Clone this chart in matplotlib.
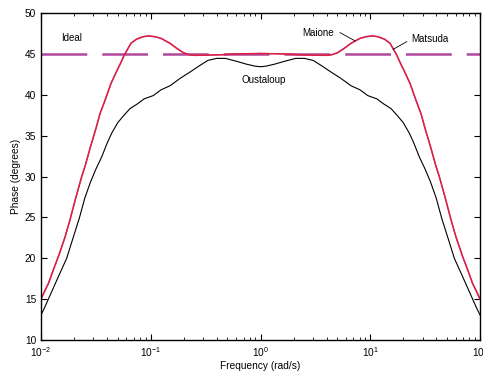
import numpy as np
import matplotlib.pyplot as plt

plt.rcParams['font.family'] = ['Liberation Sans', 'DejaVu Sans']
plt.rcParams['mathtext.fontset'] = 'custom'
plt.rcParams['mathtext.rm'] = 'Liberation Sans'
plt.rcParams['mathtext.it'] = 'Liberation Sans:italic'

# frequency points (as powers of ten)
logw_red = [-2.0, -1.966, -1.933, -1.89, -1.842, -1.781, -1.736, -1.681, -1.629, -1.6,
            -1.55, -1.499, -1.462, -1.42, -1.362, -1.31, -1.27, -1.241, -1.21, -1.18,
            -1.13, -1.07, -1.02, -0.96, -0.907, -0.825, -0.76, -0.703, -0.65, -0.6,
            -0.5, -0.35, -0.2, 0.0, 0.2, 0.35, 0.5, 0.6, 0.65, 0.703, 0.76, 0.825,
            0.907, 0.96, 1.02, 1.07, 1.13, 1.18, 1.21, 1.241, 1.27, 1.31, 1.362,
            1.42, 1.462, 1.499, 1.55, 1.6, 1.629, 1.681, 1.736, 1.781, 1.842, 1.89,
            1.933, 1.966, 2.0]
maione = [15.0, 16.0, 16.9, 18.5, 20.2, 22.6, 24.7, 27.5, 30.0, 31.2,
          33.6, 35.9, 37.7, 39.2, 41.4, 42.9, 44.0, 44.86, 45.6, 46.3,
          46.8, 47.1, 47.2, 47.1, 46.9, 46.3, 45.65, 45.15, 44.9, 44.82,
          44.85, 44.9, 45.0, 45.05, 45.0, 44.9, 44.85, 44.82, 44.9, 45.15, 45.65, 46.3,
          46.9, 47.1, 47.2, 47.1, 46.8, 46.3, 45.6, 44.86, 44.0, 42.9, 41.4,
          39.2, 37.7, 35.9, 33.6, 31.2, 30.0, 27.5, 24.7, 22.6, 20.2, 18.5,
          16.9, 16.0, 15.0]
matsuda = [15.0, 16.0, 16.9, 18.5, 20.2, 22.6, 24.7, 27.5, 30.0, 31.2,
           33.6, 35.9, 37.7, 39.2, 41.4, 42.9, 44.0, 44.86, 45.6, 46.3,
           46.8, 47.1, 47.2, 47.1, 46.9, 46.3, 45.65, 45.15, 44.9, 44.82,
           44.85, 44.9, 45.0, 45.05, 45.0, 44.9, 44.85, 44.82, 44.9, 45.15, 45.65, 46.3,
           46.9, 47.1, 47.2, 47.1, 46.8, 46.3, 45.6, 44.86, 44.0, 42.9, 41.4,
           39.2, 37.7, 35.9, 33.6, 31.2, 30.0, 27.5, 24.7, 22.6, 20.2, 18.5,
           16.9, 16.0, 15.0]

logw_blk = [-2.0, -1.966, -1.933, -1.85, -1.766, -1.71, -1.651, -1.6, -1.55, -1.5,
            -1.447, -1.4, -1.356, -1.3, -1.25, -1.19, -1.12, -1.06, -0.977, -0.907,
            -0.825, -0.733, -0.64, -0.551, -0.48, -0.4, -0.32, -0.22, -0.13, -0.05,
            0.0, 0.05, 0.13, 0.22, 0.32, 0.4, 0.48, 0.551, 0.64, 0.733, 0.825,
            0.907, 0.977, 1.06, 1.12, 1.19, 1.25, 1.3, 1.356, 1.4, 1.447,
            1.5, 1.55, 1.6, 1.651, 1.71, 1.766, 1.85, 1.933, 1.966, 2.0]
oustaloup = [13.06, 14.0, 15.0, 17.5, 20.0, 22.4, 24.9, 27.4, 29.3, 30.9,
             32.4, 34.0, 35.3, 36.6, 37.4, 38.3, 38.9, 39.5, 39.9, 40.6,
             41.1, 42.0, 42.8, 43.6, 44.2, 44.45, 44.45, 44.1, 43.75, 43.5,
             43.43, 43.5, 43.75, 44.1, 44.45, 44.45, 44.2, 43.6, 42.8, 42.0, 41.1,
             40.6, 39.9, 39.5, 38.9, 38.3, 37.4, 36.6, 35.3, 34.0, 32.4,
             30.9, 29.3, 27.4, 24.9, 22.4, 20.0, 17.5, 15.0, 14.0, 13.06]

ideal_w = [0.01, 100]
ideal = [45, 45]

w_red = 10 ** np.array(logw_red)
w_blk = 10 ** np.array(logw_blk)

fig = plt.figure(figsize=(4.83, 3.74), dpi=100)
ax = fig.add_axes([0.0849, 0.0909, 0.9089, 0.8743])

ax.plot(ideal_w, ideal, color='#b0489c', lw=1.8, dashes=(18.3, 6))
ax.plot(w_blk, oustaloup, color='black', lw=0.8)
ax.plot(w_red, matsuda, color='#c8307a', lw=1.1)
ax.plot(w_red, maione, color='#e0203c', lw=0.9)

ax.set_xscale('log')
ax.set_xlim(0.01, 100)
ax.set_ylim(10, 50)
ax.set_yticks(range(10, 51, 5))

ax.tick_params(which='both', direction='in', top=True, right=True, labelsize=7.3)
ax.tick_params(which='major', length=4, width=0.8)
ax.tick_params(which='minor', length=2.5, width=0.6)
for s in ax.spines.values():
    s.set_linewidth(1.0)

ax.set_xlabel('Frequency (rad/s)', fontsize=7.3, labelpad=2)
ax.set_ylabel('Phase (degrees)', fontsize=7.3, labelpad=3)

ax.text(0.0191, 46.95, 'Ideal', fontsize=7, ha='center', va='center')
ax.text(1.08, 41.8, 'Oustaloup', fontsize=7, ha='center', va='center')
ax.text(3.34, 47.55, 'Maione', fontsize=7, ha='center', va='center')
ax.text(35.0, 46.8, 'Matsuda', fontsize=7, ha='center', va='center')
ax.plot([5.3, 7.26], [47.6, 46.6], color='black', lw=0.6)
ax.plot([21.5, 16.2], [46.5, 45.56], color='black', lw=0.6)

fig.savefig('out.png', dpi=100)
